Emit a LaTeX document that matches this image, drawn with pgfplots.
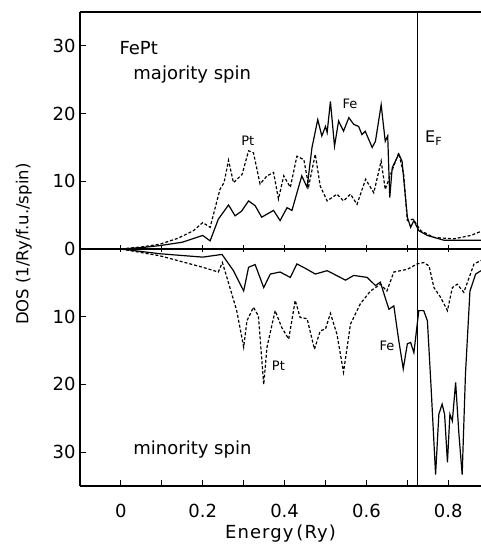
\documentclass[border=0pt]{standalone}
\usepackage{pgfplots}
\pgfplotsset{compat=1.18}
\usepackage{fontspec}
\setmainfont{DejaVu Sans}
\begin{document}
\begin{tikzpicture}
\useasboundingbox (-80pt,-62pt) rectangle (401pt,486pt);
\begin{axis}[
  at={(0pt,0pt)}, anchor=south west,
  scale only axis, width=401pt, height=474pt,
  xmin=-0.1, xmax=0.88, ymin=-35, ymax=35,
  axis x line=box, axis y line=left,
  axis line style={-, line width=1.1pt},
  xtick={0,0.2,0.4,0.6,0.8}, xticklabels={0,0.2,0.4,0.6,0.8},
  minor xtick={0.1,0.3,0.5,0.7},
  xtick pos=bottom,
  ytick={-30,-20,-10,0,10,20,30}, yticklabels={30,20,10,0,10,20,30},
  tick align=inside, major tick length=6pt, minor tick length=6pt,
  every tick/.style={black, line width=0.9pt},
  /pgf/number format/assume math mode=true,
  tick label style={font=\fontsize{18}{21}\selectfont},
  xticklabel style={yshift=-15pt},
  yticklabel style={xshift=-1pt},
  xlabel={Energy\,(Ry)},
  ylabel={DOS (1/Ry/f.u./spin)},
  every axis x label/.style={at={(axis description cs:0.5,-0.101)}, anchor=center, font=\addfontfeatures{LetterSpace=6}\fontsize{18}{21}\selectfont},
  every axis y label/.style={at={(axis description cs:-0.14,0.51)}, rotate=90, anchor=center, font=\fontsize{16.5}{19}\selectfont},
  clip=true,
]
% zero line with cross ticks
\addplot[black, line width=1.1pt] coordinates {(-0.1,0) (0.88,0)};
\addplot[only marks, mark=|, mark size=3.5pt, mark options={line width=0.9pt}] coordinates {(0,0) (0.1,0) (0.2,0) (0.3,0) (0.4,0) (0.5,0) (0.6,0) (0.7,0) (0.8,0)};
% Fermi level
\addplot[black, line width=1pt] coordinates {(0.725,-35) (0.725,35)};
% majority Fe
\addplot[black, line width=1.2pt] coordinates {
(0,0) (0.05,0.2) (0.095,0.5) (0.15,1.0) (0.2,2.0) (0.218,1.2) (0.238,4.4) (0.263,6.5) (0.279,4.9) (0.295,5.6) (0.312,7.1) (0.328,6.4) (0.344,4.7) (0.373,5.7) (0.389,4.2) (0.406,6.1) (0.418,5.7) (0.442,10.8) (0.455,9.1) (0.467,15) (0.481,19.1) (0.491,16.7) (0.5,18.1) (0.504,17.2) (0.512,21.8) (0.522,15.2) (0.532,18.9) (0.544,17.4) (0.557,19.4) (0.569,18.4) (0.581,18.1) (0.589,16.9) (0.597,17.4) (0.614,15.0) (0.622,15.9) (0.636,21.3) (0.646,15.9) (0.652,16.7) (0.657,7.6) (0.663,12.0) (0.671,13) (0.679,14) (0.687,13) (0.7,4.7) (0.708,3.2) (0.716,4.2) (0.728,2.7) (0.749,2.0) (0.789,1.3) (0.88,1.3)
};
% majority Pt
\addplot[black, line width=1.2pt, dash pattern=on 3pt off 2pt] coordinates {
(0,0) (0.05,0.3) (0.095,0.7) (0.14,1.6) (0.177,2.7) (0.2,3.9) (0.218,3.2) (0.242,8.8) (0.252,9.8) (0.263,13.1) (0.275,9.8) (0.296,11) (0.312,14.5) (0.324,14.2) (0.34,9.6) (0.357,10.8) (0.373,11.3) (0.385,7.4) (0.398,10.8) (0.414,9.1) (0.43,13.7) (0.447,13.2) (0.459,9.3) (0.475,14) (0.487,9.3) (0.504,7.1) (0.528,8.1) (0.544,7.1) (0.561,8.1) (0.577,6.6) (0.598,10.3) (0.618,8.3) (0.636,13) (0.646,8.8) (0.659,11) (0.679,14.2) (0.691,11) (0.7,4.2) (0.714,4.4) (0.733,2.7) (0.765,1.7) (0.814,1.5) (0.855,2.0) (0.88,2.6)
};
% minority Fe
\addplot[black, line width=1.2pt] coordinates {
(0,0) (0.095,-0.7) (0.2,-1.2) (0.247,-0.8) (0.275,-3.2) (0.3,-6.2) (0.312,-2.7) (0.328,-2.3) (0.349,-5.7) (0.365,-3.7) (0.389,-3.4) (0.414,-4.2) (0.43,-2.2) (0.455,-3.0) (0.475,-3.7) (0.504,-3.2) (0.549,-4.6) (0.569,-3.9) (0.602,-4.2) (0.622,-5.4) (0.634,-4.9) (0.647,-7.4) (0.655,-8.9) (0.667,-8.4) (0.679,-13.5) (0.69,-17.7) (0.7,-14) (0.708,-13.8) (0.716,-15.3) (0.728,-9.1) (0.74,-9.1) (0.749,-10.6) (0.758,-20.4) (0.769,-33.3) (0.777,-24.4) (0.785,-22.9) (0.791,-24.4) (0.798,-31.5) (0.804,-24.4) (0.81,-25.4) (0.818,-19.7) (0.826,-27.3) (0.834,-33.3) (0.842,-18.5) (0.853,-6.2) (0.867,-3.7) (0.88,-3.2)
};
% minority Pt
\addplot[black, line width=1.2pt, dash pattern=on 3pt off 2pt] coordinates {
(0,0) (0.095,-1) (0.2,-2.7) (0.238,-3.4) (0.248,-2) (0.259,-4.2) (0.283,-9.1) (0.3,-14.5) (0.308,-10.6) (0.324,-8.6) (0.336,-9.9) (0.349,-20) (0.357,-14.5) (0.377,-9.1) (0.393,-11.6) (0.41,-13.3) (0.426,-7.6) (0.438,-10.1) (0.455,-10.3) (0.473,-14.8) (0.487,-12.1) (0.5,-11.8) (0.512,-9.5) (0.528,-12.6) (0.544,-18.2) (0.561,-11.1) (0.585,-8.1) (0.61,-6.2) (0.634,-5.2) (0.65,-6.2) (0.667,-3.4) (0.7,-3) (0.724,-2.2) (0.74,-2.0) (0.753,-2.5) (0.765,-5.7) (0.781,-7.1) (0.798,-9.1) (0.81,-5.7) (0.822,-5.2) (0.838,-6.4) (0.863,-2.2) (0.88,-1.7)
};
\node[anchor=west, font=\fontsize{18}{21}\selectfont] at (axis cs:-0.012,29.6) {FePt};
\node[anchor=west, font=\fontsize{18}{21}\selectfont] at (axis cs:0.022,25.8) {majority spin};
\node[anchor=west, font=\fontsize{18}{21}\selectfont] at (axis cs:0.022,-29.6) {minority spin};
\node[font=\fontsize{13}{15}\selectfont] at (axis cs:0.31,16) {Pt};
\node[font=\fontsize{13}{15}\selectfont] at (axis cs:0.56,21.4) {Fe};
\node[font=\fontsize{13}{15}\selectfont] at (axis cs:0.385,-17.3) {Pt};
\node[font=\fontsize{13}{15}\selectfont] at (axis cs:0.65,-14.3) {Fe};
\node[anchor=west, font=\fontsize{16}{19}\selectfont] at (axis cs:0.735,16.4) {E\textsubscript{F}};
\end{axis}
\end{tikzpicture}
\end{document}
